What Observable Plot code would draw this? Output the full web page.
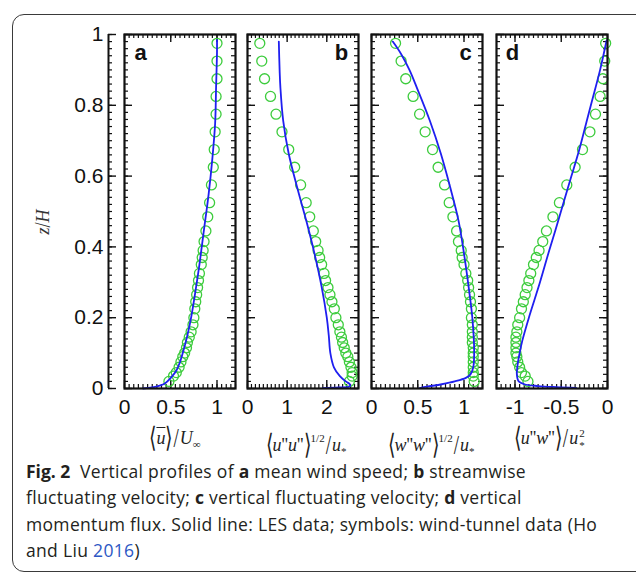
<!DOCTYPE html>
<html><head><meta charset="utf-8">
<script src="https://cdn.jsdelivr.net/npm/d3@7"></script>
<script src="https://cdn.jsdelivr.net/npm/@observablehq/plot@0.6"></script>
<style>
body{margin:0;background:#fff;}
#root{position:relative;width:636px;height:576px;overflow:hidden;background:#fff;}
#border{position:absolute;left:12px;top:14px;width:650px;height:558px;border:1.5px solid #3a3a3a;border-radius:12px;box-sizing:border-box;}
.pl{position:absolute;top:0;}
.pl svg{overflow:visible;max-width:none;display:block;}
.xt{position:absolute;top:424px;font-family:"Liberation Serif",serif;font-size:18px;color:#222;white-space:nowrap;transform:translateX(-50%);line-height:28px;}
.xt i{font-style:italic;}
.br{display:inline-block;transform:scaleY(1.45);font-size:19px;}
.sl{display:inline-block;transform:scaleY(1.45);font-size:19px;margin:0 1px;}
.xt sup{font-size:11px;vertical-align:9px;}
.xt sub{font-size:11px;vertical-align:-4px;}
.ss{display:inline-block;position:relative;width:8px;height:10px;}
.ss span{position:absolute;left:1px;font-size:11px;line-height:11px;}
#ylab{position:absolute;left:43px;top:222px;transform:translate(-50%,-50%) rotate(-90deg);font-family:"Liberation Serif",serif;font-size:18px;color:#333;white-space:nowrap;}
#cap{position:absolute;left:26px;top:458px;font-family:"Open Sans",sans-serif;font-size:17.5px;letter-spacing:0.32px;line-height:26.3px;color:#231f20;white-space:nowrap;}
#cap b{font-weight:700;letter-spacing:0;}
#cap .yr{color:#2d57c4;}
</style></head>
<body><div id="root"><div id="border"></div><div id="cap"></div></div>
<script>
// ---- data ----
const zWT = [0.975,0.925,0.875,0.825,0.775,0.725,0.675,0.625,0.575,0.525,0.485,0.445,0.415,0.39,0.37,0.35,0.325,0.305,0.285,0.265,0.245,0.225,0.2,0.18,0.16,0.145,0.13,0.115,0.1,0.09,0.075,0.06,0.045,0.035,0.02];
const wtA = [1.0,1.0,1.0,0.99,0.99,0.98,0.97,0.96,0.94,0.92,0.90,0.88,0.86,0.85,0.84,0.83,0.81,0.80,0.79,0.78,0.77,0.76,0.75,0.74,0.72,0.70,0.68,0.67,0.65,0.63,0.61,0.59,0.56,0.53,0.48];
const wtB = [0.31,0.36,0.43,0.58,0.72,0.87,1.04,1.19,1.34,1.48,1.57,1.66,1.72,1.78,1.82,1.87,1.93,1.97,2.03,2.08,2.13,2.19,2.23,2.29,2.33,2.37,2.40,2.44,2.48,2.53,2.57,2.61,2.64,2.64,2.57];
const wtC = [0.26,0.32,0.37,0.45,0.52,0.58,0.66,0.72,0.79,0.84,0.88,0.92,0.94,0.97,0.98,1.0,1.02,1.04,1.05,1.06,1.07,1.08,1.08,1.09,1.09,1.09,1.09,1.10,1.10,1.10,1.10,1.10,1.10,1.10,1.11];
const wtD = [-0.02,-0.03,-0.05,-0.08,-0.13,-0.19,-0.27,-0.35,-0.44,-0.52,-0.59,-0.66,-0.70,-0.74,-0.77,-0.80,-0.83,-0.85,-0.87,-0.89,-0.91,-0.93,-0.95,-0.97,-0.98,-0.99,-0.99,-0.99,-0.99,-0.98,-0.97,-0.95,-0.93,-0.89,-0.86];

const lesAz = [0,0.003,0.008,0.015,0.03,0.05,0.075,0.1,0.15,0.2,0.28,0.35,0.45,0.55,0.65,0.75,0.85,0.95,0.985];
const lesAx = [0.2,0.3,0.38,0.44,0.5,0.56,0.6,0.63,0.68,0.72,0.77,0.81,0.86,0.91,0.95,0.98,0.99,1.0,1.0];
const lesBz = [0.001,0.003,0.006,0.012,0.02,0.035,0.06,0.1,0.15,0.2,0.287,0.381,0.475,0.569,0.663,0.757,0.85,0.9,0.98];
const lesBx = [1.9,2.3,2.58,2.58,2.48,2.33,2.18,2.09,2.05,2.0,1.87,1.69,1.48,1.25,1.04,0.9,0.83,0.81,0.79];
const lesCz = [0.001,0.005,0.012,0.02,0.03,0.04,0.06,0.1,0.2,0.287,0.381,0.475,0.569,0.663,0.757,0.85,0.9,0.945,0.98];
const lesCx = [0.52,0.6,0.76,0.9,1.02,1.07,1.1,1.11,1.09,1.05,1.0,0.94,0.85,0.75,0.63,0.49,0.41,0.32,0.23];
const lesDz = [0.002,0.004,0.007,0.012,0.02,0.04,0.07,0.1,0.136,0.2,0.25,0.3,0.39,0.45,0.53,0.6,0.67,0.75,0.81,0.9,0.983];
const lesDx = [-0.34,-0.55,-0.75,-0.9,-0.96,-0.98,-0.97,-0.95,-0.92,-0.85,-0.79,-0.73,-0.63,-0.56,-0.47,-0.39,-0.31,-0.23,-0.17,-0.08,-0.01];

const yTicks = [0,0.2,0.4,0.6,0.8,1];
const yTickLabels = ["0","0.2","0.4","0.6","0.8","1"];
const xTicksA = [0,0.5,1], xLabelsA = ["0","0.5","1"];
const xTicksB = [0,1,2], xLabelsB = ["0","1","2"];
const xTicksC = [0,0.5,1], xLabelsC = ["0","0.5","1"];
const xTicksD = [-1,-0.5,0], xLabelsD = ["-1","-0.5","0"];
const panelLetters = ["a","b","c","d"];

// ---- layout ----
const root = document.getElementById("root");
const BLUE = "#1f1ff0", GREEN = "#3dcc3d";
const TOP = 34, BOT = 388, SVGH = 430, PAD = 26;
const FONT = "'Liberation Sans', Arial, sans-serif";
const yMinor = d3.range(0, 1.0001, 0.02).map(v => +v.toFixed(4));

function place(svg, left) {
  const d = document.createElement("div");
  d.className = "pl"; d.style.left = left + "px";
  d.appendChild(svg); root.appendChild(d);
}

function panel({left, right, domain, ticks, labels, minorStep, letter, corner, wt, lz, lx}) {
  const pw = right - left, ph = BOT - TOP;
  const labelMap = new Map(ticks.map((t, i) => [t, labels[i]]));
  const xMinor = d3.range(domain[0], domain[1] + 1e-9, minorStep).map(v => +v.toFixed(4));
  const dots = zWT.map((z, i) => ({x: wt[i], z}));
  const les = lz.map((z, i) => ({x: lx[i], z}));
  const isLeft = corner === "left";
  const tk = {stroke: "#111"};
  const svg = Plot.plot({
    width: pw + 2 * PAD, height: SVGH,
    marginLeft: PAD, marginRight: PAD, marginTop: TOP, marginBottom: SVGH - BOT,
    x: {domain, axis: null}, y: {domain: [0, 1], axis: null},
    style: {background: "transparent", fontFamily: FONT, color: "#111", overflow: "visible"},
    marks: [
      Plot.ruleX(xMinor, {x: d => d, insetBottom: ph - 4, strokeWidth: 1.2, ...tk}),
      Plot.ruleX(xMinor, {x: d => d, insetTop: ph - 4, strokeWidth: 1.2, ...tk}),
      Plot.ruleX(ticks, {x: d => d, insetBottom: ph - 8, strokeWidth: 1.4, ...tk}),
      Plot.ruleX(ticks, {x: d => d, insetTop: ph - 8, strokeWidth: 1.4, ...tk}),
      Plot.ruleY(yMinor, {y: d => d, insetRight: pw - 4, strokeWidth: 1.2, ...tk}),
      Plot.ruleY(yMinor, {y: d => d, insetLeft: pw - 4, strokeWidth: 1.2, ...tk}),
      Plot.ruleY(yTicks, {y: d => d, insetRight: pw - 8, strokeWidth: 1.4, ...tk}),
      Plot.ruleY(yTicks, {y: d => d, insetLeft: pw - 8, strokeWidth: 1.4, ...tk}),
      Plot.dot(dots, {x: "x", y: "z", r: 5, stroke: GREEN, strokeWidth: 1.3, fill: "none"}),
      Plot.line(les, {x: "x", y: "z", stroke: BLUE, strokeWidth: 1.8, curve: "catmull-rom"}),
      Plot.frame({stroke: "#111", strokeWidth: 2.2}),
      Plot.text([letter], {frameAnchor: isLeft ? "top-left" : "top-right", dx: isLeft ? 16 : -17, dy: 18,
        textAnchor: "middle", lineAnchor: "middle", fontSize: 22, fontWeight: "bold", fill: "#111"}),
      Plot.axisX({anchor: "bottom", ticks, tickSize: 0, tickPadding: 11, fontSize: 21,
        tickFormat: d => labelMap.get(d), label: null, fill: "#111"})
    ]
  });
  place(svg, left - PAD);
}

// y axis
{
  const labelMap = new Map(yTicks.map((t, i) => [t, yTickLabels[i]]));
  const svg = Plot.plot({
    width: 120, height: SVGH, marginLeft: 108, marginRight: 4, marginTop: TOP, marginBottom: SVGH - BOT,
    x: {domain: [0, 1], axis: null}, y: {domain: [0, 1], axis: null},
    style: {background: "transparent", fontFamily: FONT, color: "#111", overflow: "visible"},
    marks: [
      Plot.ruleY(yMinor, {y: d => d, insetRight: 4, strokeWidth: 1.2, stroke: "#111"}),
      Plot.ruleY(yTicks, {y: d => d, strokeWidth: 1.4, stroke: "#111"}),
      Plot.ruleX([0], {stroke: "#111", strokeWidth: 2}),
      Plot.axisY({anchor: "left", ticks: yTicks, tickSize: 0, tickPadding: 5, fontSize: 21,
        tickFormat: d => labelMap.get(d), label: null, fill: "#111"})
    ]
  });
  place(svg, 0);
}

panel({left: 124, right: 235, domain: [0, 1.2], ticks: xTicksA, labels: xLabelsA, minorStep: 0.05, letter: panelLetters[0], corner: "left", wt: wtA, lz: lesAz, lx: lesAx});
panel({left: 247, right: 358, domain: [0, 2.8], ticks: xTicksB, labels: xLabelsB, minorStep: 0.1, letter: panelLetters[1], corner: "right", wt: wtB, lz: lesBz, lx: lesBx});
panel({left: 371, right: 482, domain: [0, 1.2], ticks: xTicksC, labels: xLabelsC, minorStep: 0.05, letter: panelLetters[2], corner: "right", wt: wtC, lz: lesCz, lx: lesCx});
panel({left: 496, right: 607, domain: [-1.2, 0], ticks: xTicksD, labels: xLabelsD, minorStep: 0.05, letter: panelLetters[3], corner: "left", wt: wtD, lz: lesDz, lx: lesDx});

// axis titles
const titles = [
  {cx: 175, html: '<span class="br">⟨</span><i style="text-decoration:overline">u</i><span class="br">⟩</span><span class="sl">/</span><i>U</i><sub>∞</sub>'},
  {cx: 306, html: '<span class="br">⟨</span><i>u</i>\'\'<i>u</i>\'\'<span class="br">⟩</span><sup>1/2</sup><span class="sl">/</span><i>u</i><sub>*</sub>'},
  {cx: 431, html: '<span class="br">⟨</span><i>w</i>\'\'<i>w</i>\'\'<span class="br">⟩</span><sup>1/2</sup><span class="sl">/</span><i>u</i><sub>*</sub>'},
  {cx: 550, html: '<span class="br">⟨</span><i>u</i>\'\'<i>w</i>\'\'<span class="br">⟩</span><span class="sl">/</span><i>u</i><span class="ss"><span style="top:-6px">2</span><span style="top:6px">*</span></span>'}
];
titles.forEach(t => {
  const d = document.createElement("div");
  d.className = "xt"; d.style.left = t.cx + "px"; d.innerHTML = t.html;
  root.appendChild(d);
});
const yl = document.createElement("div");
yl.id = "ylab"; yl.innerHTML = '<i>z</i><span style="display:inline-block;transform:scaleY(1.3)">/</span><i>H</i>';
root.appendChild(yl);

// caption
const capLines = [
  '<b>Fig. 2</b>&nbsp; Vertical profiles of <b>a</b> mean wind speed; <b>b</b> streamwise',
  'fluctuating velocity; <b>c</b> vertical fluctuating velocity; <b>d</b> vertical',
  'momentum flux. Solid line: LES data; symbols: wind-tunnel data (Ho',
  'and Liu <span class="yr">2016</span>)'
];
document.getElementById("cap").innerHTML = capLines.map(l => `<div>${l}</div>`).join("");
</script>
</body></html>
